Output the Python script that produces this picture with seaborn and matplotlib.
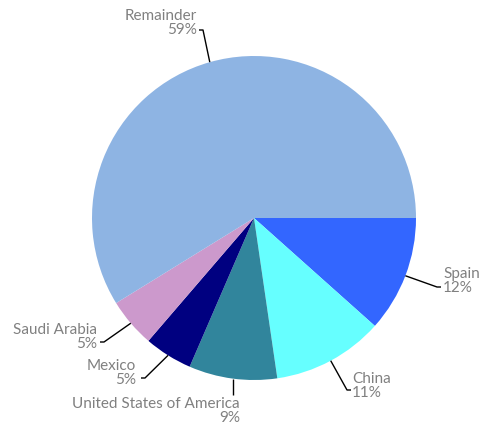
import numpy as np
import matplotlib
matplotlib.use("Agg")
import matplotlib.pyplot as plt
import seaborn as sns

# Share of total by country
countries = ["Spain", "China", "United States of America", "Mexico", "Saudi Arabia", "Remainder"]
shares = [11.6, 11.1, 8.8, 4.8, 4.9, 58.8]
colors = ["#3366FF", "#66FFFF", "#31859C", "#000080", "#CC99CC", "#8EB4E3"]

sns.set_style("white")
plt.rcParams["font.family"] = ["Lato", "DejaVu Sans"]

W, H = 488, 425
CX, CY, R = 254, 218, 162  # pie centre and radius in pixels

fig = plt.figure(figsize=(W / 100, H / 100), dpi=100)
ax = fig.add_axes([0, 0, 1, 1])

wedges, _ = ax.pie(shares, colors=colors, startangle=0, counterclock=False,
                   radius=1.0, center=(0, 0),
                   wedgeprops=dict(linewidth=0))

ax.set_xlim(-CX / R, (W - CX) / R)
ax.set_ylim(-(H - CY) / R, CY / R)
ax.set_aspect("equal")
ax.axis("off")

# label layout: (text x, text y in pixels, alignment, elbow x, elbow y in pixels)
layout = {
    "Spain": (443, 281, "left", 437, 287),
    "China": (352, 386, "left", 347, 390),
    "United States of America": (240, 411, "right", 235, 395),
    "Mexico": (136, 373, "right", 145, 378),
    "Saudi Arabia": (97, 337, "right", 104, 342),
    "Remainder": (197, 23, "right", 203, 30),
}

def to_data(px, py):
    return (px - CX) / R, (CY - py) / R

for w, name, v in zip(wedges, countries, shares):
    mid = np.deg2rad((w.theta1 + w.theta2) / 2)
    ex, ey = np.cos(mid), np.sin(mid)
    tx, ty, ha, bx, by = layout[name]
    bxd, byd = to_data(bx, by)
    if name == "United States of America":
        xs, ys = [ex, ex], [ey, byd]
    else:
        hx = bx + (4 if ha == "left" else -4)
        hxd, _ = to_data(hx, by)
        xs, ys = [ex, bxd, hxd], [ey, byd, byd]
    ax.plot(xs, ys, color="black", lw=1.0, solid_capstyle="butt")
    txd, tyd = to_data(tx, ty)
    ax.text(txd, tyd, f"{name}\n{v:.0f}%", ha=ha, va="center",
            multialignment=ha, color="#808080", fontsize=11, linespacing=1.0)

fig.savefig("out.png", dpi=100)
